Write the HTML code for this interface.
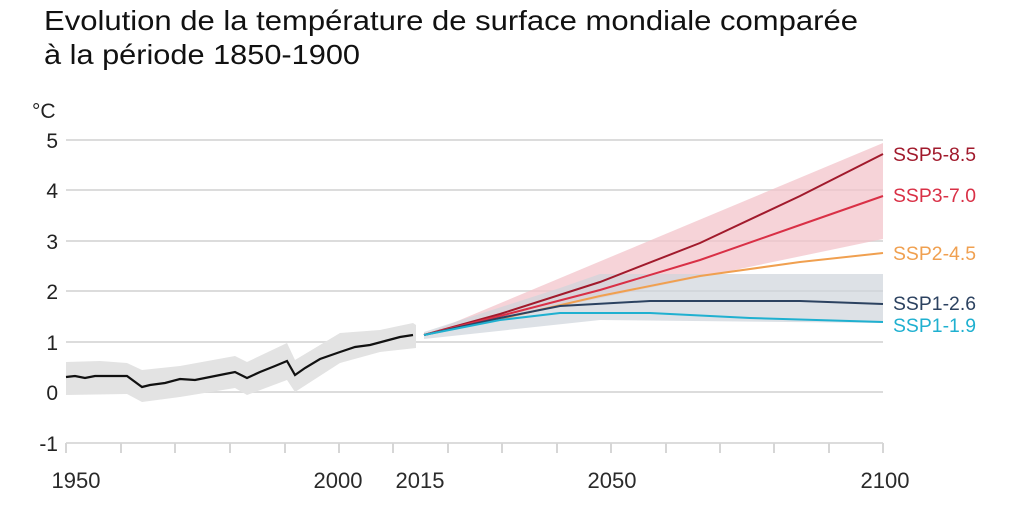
<!DOCTYPE html>
<html><head><meta charset="utf-8"><style>
html,body{margin:0;padding:0;background:#fff;width:1009px;height:513px;overflow:hidden}
svg{display:block}
</style></head><body>
<svg width="1009" height="513" xmlns="http://www.w3.org/2000/svg" font-family="Liberation Sans, sans-serif">
<text x="44" y="30" font-size="28" fill="#111" textLength="814" lengthAdjust="spacingAndGlyphs">Evolution de la température de surface mondiale comparée</text>
<text x="44" y="64" font-size="28" fill="#111" textLength="316" lengthAdjust="spacingAndGlyphs">à la période 1850-1900</text>
<text x="32" y="118" font-size="21" fill="#222">°C</text>
<g stroke="#dcdcdc" stroke-width="2">
<line x1="66" y1="140" x2="883" y2="140"/><line x1="66" y1="190" x2="883" y2="190"/>
<line x1="66" y1="241" x2="883" y2="241"/><line x1="66" y1="291" x2="883" y2="291"/>
<line x1="66" y1="342" x2="883" y2="342"/><line x1="66" y1="392" x2="883" y2="392"/>
<line x1="66" y1="443" x2="883" y2="443"/>
</g>
<g stroke="#d6d6d6" stroke-width="2">
<line x1="66" y1="443" x2="66" y2="453"/><line x1="121" y1="443" x2="121" y2="453"/><line x1="175" y1="443" x2="175" y2="453"/><line x1="230" y1="443" x2="230" y2="453"/><line x1="285" y1="443" x2="285" y2="453"/><line x1="339" y1="443" x2="339" y2="453"/><line x1="393" y1="443" x2="393" y2="453"/><line x1="448" y1="443" x2="448" y2="453"/><line x1="502" y1="443" x2="502" y2="453"/><line x1="557" y1="443" x2="557" y2="453"/><line x1="611" y1="443" x2="611" y2="453"/><line x1="666" y1="443" x2="666" y2="453"/><line x1="720" y1="443" x2="720" y2="453"/><line x1="774" y1="443" x2="774" y2="453"/><line x1="829" y1="443" x2="829" y2="453"/><line x1="883" y1="443" x2="883" y2="453"/>
</g>
<g font-size="21" fill="#222" text-anchor="end">
<text x="58" y="148">5</text><text x="58" y="198">4</text><text x="58" y="249">3</text><text x="58" y="299">2</text><text x="58" y="350">1</text><text x="58" y="400">0</text><text x="58" y="451">-1</text>
</g>
<g font-size="22" fill="#2a2a2a" text-anchor="middle">
<text x="76" y="488">1950</text><text x="338" y="488">2000</text><text x="420" y="488">2015</text><text x="612" y="488">2050</text><text x="885" y="488">2100</text>
</g>
<polygon fill="#e3e3e3" points="66,362 100,361 127,363 142,370 180,366 235,356 247,362 287,343 295,360 340,333 380,330 413,323 416,325 416,348 380,352 340,363 295,392 287,380 247,395 235,388 180,397 142,402 127,394 66,395"/>
<polyline fill="none" stroke="#111" stroke-width="2.2" points="66,377 75,376 85,378 95,376 127,376 142,387 150,385 165,383 180,379 195,380 210,377 225,374 235,372 247,378 260,372 275,366 287,361 295,375 305,368 320,359 340,352 355,347 370,345 385,341 400,337 413,335"/>
<polygon fill="#f3c4cb" opacity="0.75" points="424,335 883,143 883,239"/>
<polygon fill="#cfd4dc" opacity="0.7" points="424,332 560,288 600,274 883,274 883,323 600,320 424,339"/>
<polyline fill="none" stroke="#a11a2c" stroke-width="2" points="424,335 500,314 600,282 700,243 800,196 883,154"/>
<polyline fill="none" stroke="#d93046" stroke-width="2" points="424,335 500,316 600,290 700,260 800,225 883,196"/>
<polyline fill="none" stroke="#f0a050" stroke-width="2" points="424,335 500,319 600,296 700,276 800,262 883,253"/>
<polyline fill="none" stroke="#2c4260" stroke-width="2" points="424,335 500,318 560,306 650,301 800,301 883,304"/>
<polyline fill="none" stroke="#1fb0d0" stroke-width="2" points="424,335 500,320 560,313 650,313 750,318 883,322"/>
<g font-size="19">
<text x="893" y="161" fill="#a11a2c" textLength="83" lengthAdjust="spacingAndGlyphs">SSP5-8.5</text>
<text x="893" y="202" fill="#d93046" textLength="83" lengthAdjust="spacingAndGlyphs">SSP3-7.0</text>
<text x="893" y="260" fill="#f0a050" textLength="83" lengthAdjust="spacingAndGlyphs">SSP2-4.5</text>
<text x="893" y="310" fill="#2c4260" textLength="83" lengthAdjust="spacingAndGlyphs">SSP1-2.6</text>
<text x="893" y="332" fill="#1fb0d0" textLength="83" lengthAdjust="spacingAndGlyphs">SSP1-1.9</text>
</g>
</svg>
</body></html>
